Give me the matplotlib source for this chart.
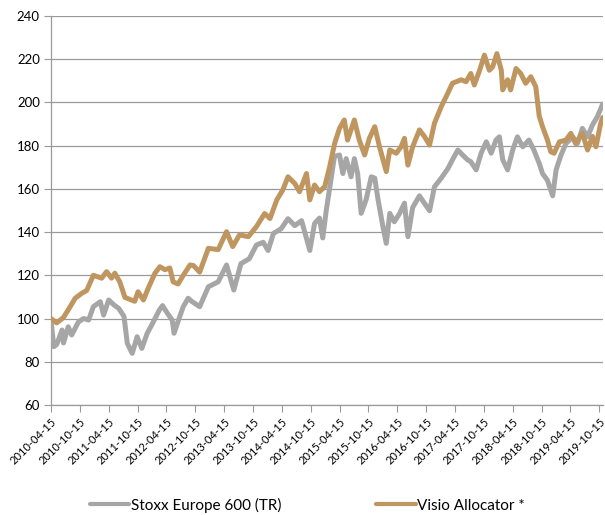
import matplotlib
matplotlib.use('Agg')
import matplotlib.pyplot as plt
import pandas as pd

# Stoxx Europe 600 (TR)
stoxx_dates = ['2010-04-15', '2010-05-03', '2010-05-21', '2010-06-24', '2010-07-03', '2010-08-02',
               '2010-08-24', '2010-10-06', '2010-11-08', '2010-12-09', '2011-01-08', '2011-02-21',
               '2011-03-14', '2011-04-15', '2011-05-18', '2011-06-18', '2011-07-21', '2011-08-11',
               '2011-09-11', '2011-10-12', '2011-11-11', '2011-12-15', '2012-01-18', '2012-03-01',
               '2012-03-21', '2012-04-21', '2012-05-21', '2012-06-02', '2012-06-30', '2012-07-30',
               '2012-08-30', '2012-09-21', '2012-11-11', '2013-01-05', '2013-03-08', '2013-04-30',
               '2013-06-15', '2013-07-30', '2013-09-21', '2013-11-05', '2013-12-18', '2014-01-18',
               '2014-02-21', '2014-04-11', '2014-05-24', '2014-07-06', '2014-08-18', '2014-10-09',
               '2014-11-08', '2014-12-09', '2014-12-30', '2015-01-21', '2015-02-11', '2015-03-14',
               '2015-04-15', '2015-05-06', '2015-05-27', '2015-06-27', '2015-07-18', '2015-08-08',
               '2015-08-30', '2015-09-30', '2015-11-02', '2015-11-24', '2015-12-15', '2016-01-15',
               '2016-02-05', '2016-02-27', '2016-03-27', '2016-04-30', '2016-05-30', '2016-06-21',
               '2016-07-21', '2016-09-02', '2016-10-03', '2016-11-05', '2016-12-06', '2017-01-18',
               '2017-03-02', '2017-03-30', '2017-05-03', '2017-06-02', '2017-07-03', '2017-07-24',
               '2017-08-27', '2017-09-27', '2017-10-30', '2017-11-30', '2017-12-30', '2018-01-21',
               '2018-02-11', '2018-03-14', '2018-04-15', '2018-05-15', '2018-06-18', '2018-07-27',
               '2018-08-27', '2018-09-30', '2018-10-21', '2018-11-21', '2018-12-24', '2019-01-15',
               '2019-02-15', '2019-03-18', '2019-04-30', '2019-05-30', '2019-06-30', '2019-08-02',
               '2019-09-02', '2019-10-03', '2019-11-05']
stoxx = [99, 87, 88, 94.7, 88.7, 96.2,
         92.4, 98.5, 100, 99.3, 105.5, 107.8,
         101.6, 108.6, 106.3, 104.7, 101, 88.5,
         83.9, 91.6, 86.2, 93.2, 97.8, 104,
         106, 102.4, 99.3, 93.2, 99.3, 105.5,
         109.4, 108, 105.5, 114.7, 117, 124.8,
         113.2, 125.4, 127.7, 134, 135.3, 131.5,
         139.4, 141.6, 146.2, 143, 145.3, 131.5,
         144, 146.5, 137.3, 150, 160, 175,
         175.7, 167.1, 174, 165.6, 174, 167,
         148.7, 154.9, 165.6, 165, 155, 142.5,
         134.8, 148.7, 144.8, 148.7, 153.4, 137.9,
         151.4, 156.8, 153.4, 149.9, 161, 165,
         169.5, 173.5, 178, 175.7, 173.5, 172.6,
         168.8, 176.5, 181.8, 176.5, 182.6, 184.1,
         173.5, 168.8, 178, 184.1, 179.5, 182.6,
         178, 171.8, 167.1, 164, 156.8, 168.8,
         175.7, 181, 184.1, 181, 188, 184.1,
         189.6, 193.4, 199.2]

# Visio Allocator *
visio_dates = ['2010-04-15', '2010-05-21', '2010-07-03', '2010-08-02', '2010-09-15', '2010-10-27',
               '2010-11-27', '2011-01-08', '2011-03-02', '2011-04-02', '2011-05-03', '2011-05-24',
               '2011-06-24', '2011-07-27', '2011-09-05', '2011-09-27', '2011-10-18', '2011-11-21',
               '2011-12-21', '2012-02-02', '2012-03-04', '2012-04-05', '2012-05-06', '2012-05-27',
               '2012-06-27', '2012-07-30', '2012-09-11', '2012-10-03', '2012-11-11', '2013-01-05',
               '2013-03-08', '2013-04-30', '2013-06-08', '2013-07-21', '2013-09-15', '2013-11-05',
               '2013-12-27', '2014-01-30', '2014-03-14', '2014-04-21', '2014-05-24', '2014-07-06',
               '2014-08-05', '2014-09-18', '2014-10-09', '2014-11-08', '2014-12-09', '2015-01-11',
               '2015-02-11', '2015-03-15', '2015-04-15', '2015-05-15', '2015-06-05', '2015-07-18',
               '2015-08-18', '2015-09-21', '2015-10-21', '2015-11-24', '2015-12-24', '2016-02-05',
               '2016-02-27', '2016-04-08', '2016-05-09', '2016-05-30', '2016-06-21', '2016-07-21',
               '2016-09-02', '2016-10-03', '2016-11-05', '2016-12-06', '2017-01-18', '2017-02-18',
               '2017-03-30', '2017-05-24', '2017-06-24', '2017-07-24', '2017-08-15', '2017-09-18',
               '2017-10-18', '2017-11-18', '2017-12-09', '2018-01-05', '2018-02-02', '2018-02-11',
               '2018-03-14', '2018-04-02', '2018-05-06', '2018-06-05', '2018-07-06', '2018-08-08',
               '2018-09-08', '2018-09-30', '2018-10-21', '2018-11-21', '2018-12-12', '2019-01-02',
               '2019-02-05', '2019-03-18', '2019-04-18', '2019-05-18', '2019-06-30', '2019-08-02',
               '2019-09-02', '2019-09-24', '2019-10-24', '2019-11-05']
visio = [100, 98, 100.5, 104, 109.4, 111.7,
         113, 120, 118.7, 121.7, 118.7, 121,
         117, 109.8, 108.6, 108, 112.4, 108.6,
         114, 121, 124, 122.6, 123.4, 117,
         116, 120, 124.8, 124.5, 121.5, 132.5,
         131.9, 140.2, 133.3, 138.7, 137.9, 142.5,
         148.6, 146.3, 154.9, 159.5, 165.6, 162.5,
         158.7, 167.1, 154.9, 161.8, 158.7, 161,
         170, 181, 188, 191.9, 182.6, 191.9,
         182.6, 175.7, 183.4, 188.8, 179.5, 168,
         178, 176.5, 179.5, 183.4, 171, 179.5,
         187.3, 184.3, 180.3, 190.4, 198.1, 202.7,
         208.9, 210.5, 209.6, 213.4, 208.1, 214.9,
         221.9, 214.9, 216.4, 222.6, 214.9, 205.8,
         210.5, 205.8, 215.7, 213.4, 208.9, 211.9,
         207.3, 193.7, 188.8, 182.6, 177.2, 176.5,
         181.8, 182.6, 185.7, 181, 185.7, 178,
         184.3, 179.5, 190.4, 193]

tick_labels = ['2010-04-15', '2010-10-15', '2011-04-15', '2011-10-15', '2012-04-15',
               '2012-10-15', '2013-04-15', '2013-10-15', '2014-04-15', '2014-10-15',
               '2015-04-15', '2015-10-15', '2016-04-15', '2016-10-15', '2017-04-15',
               '2017-10-15', '2018-04-15', '2018-10-15', '2019-04-15', '2019-10-15']
y_ticks = [60, 80, 100, 120, 140, 160, 180, 200, 220, 240]

plt.rcParams['font.family'] = ['Lato', 'DejaVu Sans']

grey = '#a6a6a6'
gold = '#bf9660'
axis_col = '#9a9a9a'

fig = plt.figure(figsize=(6.05, 5.15), dpi=100)
ax = fig.add_axes([0.0843, 0.2136, 0.913, 0.7553])

ax.plot(pd.to_datetime(stoxx_dates), stoxx, color=grey, lw=3.6,
        solid_joinstyle='round', solid_capstyle='round', label='Stoxx Europe 600 (TR)', zorder=3)
ax.plot(pd.to_datetime(visio_dates), visio, color=gold, lw=3.6,
        solid_joinstyle='round', solid_capstyle='round', label='Visio Allocator *', zorder=3)

ax.set_ylim(60, 240)
ax.set_yticks(y_ticks)
ax.set_xlim(pd.Timestamp('2010-04-15'), pd.Timestamp('2019-11-10'))
ax.set_xticks(pd.to_datetime(tick_labels))
ax.set_xticklabels(tick_labels, rotation=45, ha='right', rotation_mode='anchor', fontsize=8)
ax.tick_params(axis='y', labelsize=9.5, length=5, color=axis_col, pad=3)
ax.tick_params(axis='x', length=5, color=axis_col, pad=3)

ax.grid(axis='y', color=axis_col, lw=0.9, zorder=0)
for s in ['top', 'right']:
    ax.spines[s].set_visible(False)
for s in ['left', 'bottom']:
    ax.spines[s].set_color(axis_col)
    ax.spines[s].set_linewidth(0.9)

leg = fig.legend(loc='lower center', bbox_to_anchor=(0.508, -0.022), ncol=2, frameon=False,
                 fontsize=11, handlelength=2.6, handletextpad=0.1, columnspacing=6.2)
for h in leg.get_lines():
    h.set_linewidth(3)

fig.savefig('out.png', dpi=100)
